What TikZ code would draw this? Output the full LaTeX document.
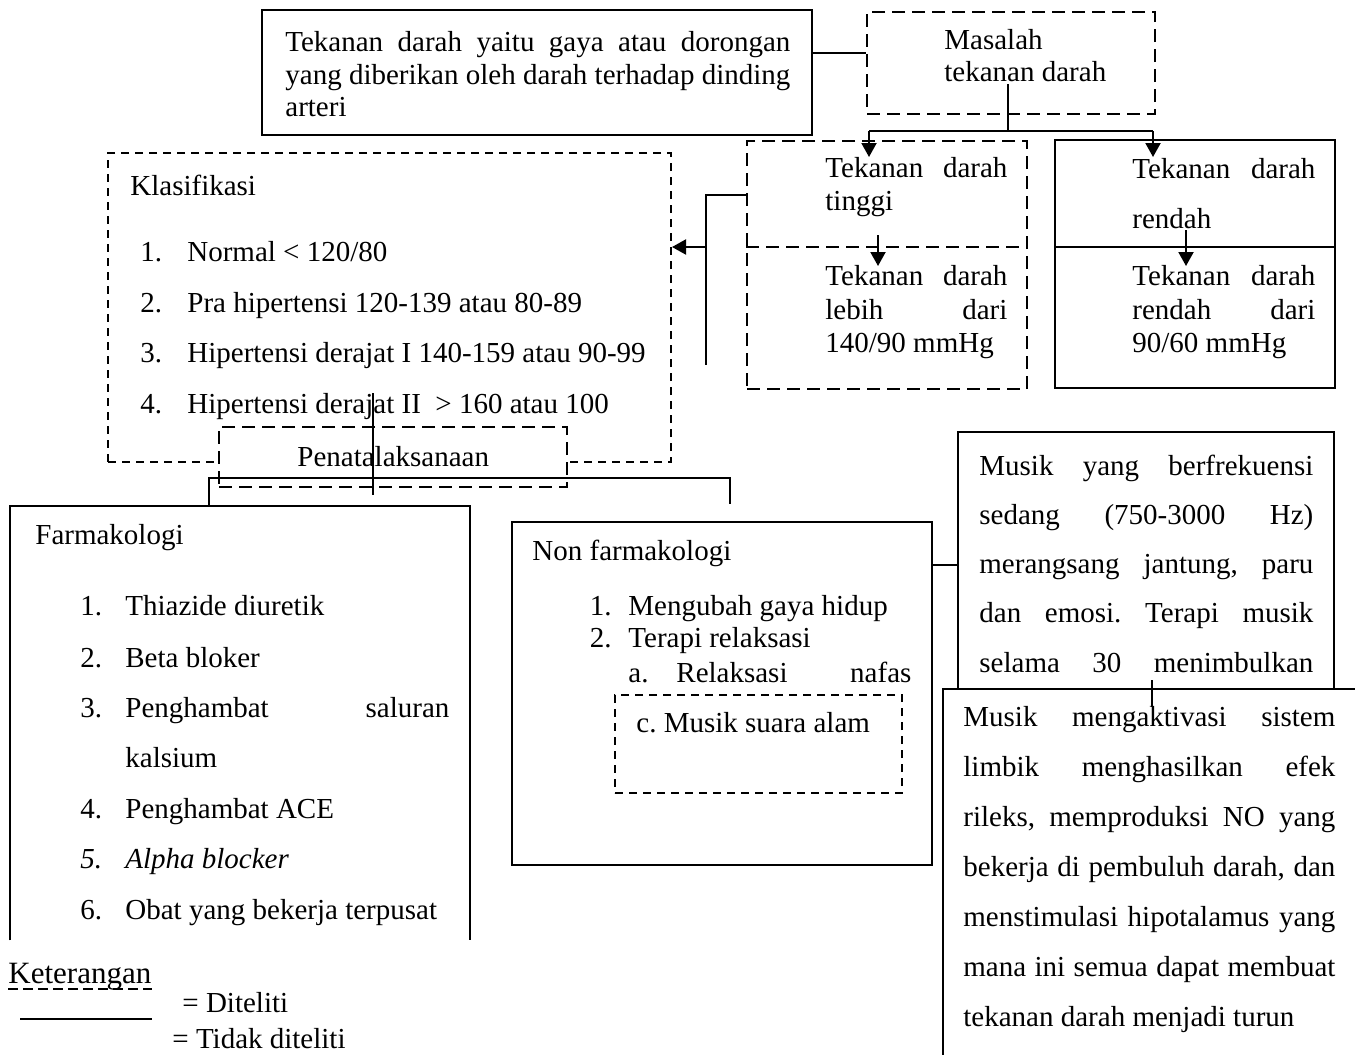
\documentclass[tikz,border=0pt]{standalone}
\usepackage{fontspec}
\setmainfont{Liberation Serif}
\usetikzlibrary{arrows.meta,fit,calc}
\begin{document}
\frenchspacing
\begin{tikzpicture}[x=0.5pt,y=-0.5pt,
  solidbox/.style={draw, line width=1pt, inner sep=0pt},
  dashbox/.style={draw, line width=1pt, inner sep=0pt, dash pattern=on 6.5pt off 3.5pt},
  finebox/.style={draw, line width=1pt, inner sep=0pt, dash pattern=on 4pt off 3pt},
  hidbox/.style={inner sep=0pt},
  conn/.style={line width=1pt},
  arr/.style={line width=1pt, -{Triangle[length=7pt,width=7.5pt]}},
  txt/.style={inner sep=0pt, anchor=base west, font=\fontsize{14.5}{17}\selectfont\frenchspacing},
  txtr/.style={inner sep=0pt, anchor=base east, font=\fontsize{14.5}{17}\selectfont},
]
\useasboundingbox (0,0) rectangle (1355,1055);
\clip (0,0) rectangle (1355,1055);
\fill[white] (0,0) rectangle (1355,1055);

% ---------- boxes ----------
\node[solidbox, fit={(262,10) (812,135)}] (def) {};
\node[dashbox, fit={(867,12) (1155,114)}] (masalah) {};
\node[dashbox, fit={(747,141) (1027,389)}] (tinggi) {};
\node[solidbox, fit={(1055,140) (1335,388)}] (rendah) {};
\node[finebox, fit={(108,153) (671,462)}] (klas) {};
\node[dashbox, fill=white, fit={(219,427) (567,487)}] (penatal) {};
\node[hidbox, fit={(10,506) (470,940)}] (farm) {};
\node[solidbox, fit={(512,522) (932,865)}] (nonfarm) {};
\node[finebox, fit={(615,695) (902,793)}] (musikc) {};
\node[hidbox, fit={(958,432) (1334,689)}] (musik1) {};

% open boxes
\draw[conn] (farm.south west) -- (farm.north west) -- (farm.north east) -- (farm.south east);
\draw[conn] (musik1.south west) -- (musik1.north west) -- (musik1.north east) -- (musik1.south east);
\node[solidbox, fill=white, fit={(943,689) (1380,1080)}] (musik2) {};

% dividers
\draw[conn, dash pattern=on 6.5pt off 3.5pt] ($(tinggi.west)+(0,-18)$) coordinate (td1) -- (td1 -| tinggi.east);
\draw[conn] ($(rendah.west)+(0,-17)$) coordinate (rd1) -- (rd1 -| rendah.east);

% ---------- texts ----------
\node[txt] (d1) at (285,51) {\makebox[252.5pt][s]{Tekanan darah yaitu gaya atau dorongan}};
\node[txt] (d2) at (285,84) {\makebox[252.5pt][s]{yang diberikan oleh darah terhadap dinding}};
\node[txt] (d3) at (285,116) {arteri};

\node[txt] (m1) at (944,49) {Masalah};
\node[txt] (m2) at (944,81) {tekanan darah};

\node[txt] (t1) at (825,177) {\makebox[91pt][s]{Tekanan darah}};
\node[txt] (t2) at (825,210) {tinggi};
\node[txt] (t3) at (825,285) {\makebox[91pt][s]{Tekanan darah}};
\node[txt] (t4) at (825,319) {\makebox[91pt][s]{lebih dari}};
\node[txt] (t5) at (825,352) {140/90 mmHg};

\node[txt] (r1) at (1132,178) {\makebox[91.5pt][s]{Tekanan darah}};
\node[txt] (r2) at (1132,228) {rendah};
\node[txt] (r3) at (1132,285) {\makebox[91.5pt][s]{Tekanan darah}};
\node[txt] (r4) at (1132,319) {\makebox[91.5pt][s]{rendah dari}};
\node[txt] (r5) at (1132,352) {90/60 mmHg};

\node[txt] (k0) at (130,195) {Klasifikasi};
\node[txt] (kn1) at (140,261) {1.};
\node[txt] (k1) at (187,261) {Normal < 120/80};
\node[txt] (kn2) at (140,312) {2.};
\node[txt] (k2) at (187,312) {Pra hipertensi 120-139 atau 80-89};
\node[txt] (kn3) at (140,362) {3.};
\node[txt] (k3) at (187,362) {Hipertensi derajat I 140-159 atau 90-99};
\node[txt] (kn4) at (140,413) {4.};
\node[txt] (k4) at (187,413) {Hipertensi derajat II~~> 160 atau 100};

\node[txt] (p0) at (297,466) {Penatalaksanaan};

\node[txt] (f0) at (35,544) {Farmakologi};
\node[txt] (fn1) at (80,615) {1.};
\node[txt] (f1) at (125,615) {Thiazide diuretik};
\node[txt] (fn2) at (80,667) {2.};
\node[txt] (f2) at (125,667) {Beta bloker};
\node[txt] (fn3) at (80,717) {3.};
\node[txt] (f3) at (125,717) {\makebox[162pt][s]{Penghambat saluran}};
\node[txt] (f3b) at (125,767) {kalsium};
\node[txt] (fn4) at (80,818) {4.};
\node[txt] (f4) at (125,818) {Penghambat ACE};
\node[txt] (fn5) at (80,868) {\itshape 5.};
\node[txt] (f5) at (125,868) {\itshape Alpha blocker};
\node[txt] (fn6) at (80,919) {6.};
\node[txt] (f6) at (125,919) {Obat yang bekerja terpusat};

\node[txt] (n0) at (532,560) {Non farmakologi};
\node[txtr] (nn1) at (612,615) {1.};
\node[txt] (n1) at (628,615) {Mengubah gaya hidup};
\node[txtr] (nn2) at (612,647) {2.};
\node[txt] (n2) at (628,647) {Terapi relaksasi};
\node[txt] (na) at (628,682) {a.};
\node[txt] (n3) at (676,682) {\makebox[117.5pt][s]{Relaksasi nafas}};
\node[txt] (nc) at (636,732) {c. Musik suara alam};

\node[txt] (s1) at (979,475) {\makebox[167pt][s]{Musik yang berfrekuensi}};
\node[txt] (s2) at (979,524) {\makebox[167pt][s]{sedang (750-3000 Hz)}};
\node[txt] (s3) at (979,573) {\makebox[167pt][s]{merangsang jantung, paru}};
\node[txt] (s4) at (979,622) {\makebox[167pt][s]{dan emosi. Terapi musik}};
\node[txt] (s5) at (979,672) {\makebox[167pt][s]{selama 30 menimbulkan}};

\node[txt] (u1) at (963,726) {\makebox[186pt][s]{Musik mengaktivasi sistem}};
\node[txt] (u2) at (963,776) {\makebox[186pt][s]{limbik menghasilkan efek}};
\node[txt] (u3) at (963,826) {\makebox[186pt][s]{rileks, memproduksi NO yang}};
\node[txt] (u4) at (963,876) {\makebox[186pt][s]{bekerja di pembuluh darah, dan}};
\node[txt] (u5) at (963,926) {\makebox[186pt][s]{menstimulasi hipotalamus yang}};
\node[txt] (u6) at (963,976) {\makebox[186pt][s]{mana ini semua dapat membuat}};
\node[txt] (u7) at (963,1026) {tekanan darah menjadi turun};

% legend
\node[txt, font=\fontsize{15.5}{18}\selectfont] (ket) at (8,983) {Keterangan};
\draw[conn, dash pattern=on 5pt off 2.5pt] ($(ket.base west)+(0,6)$) coordinate (ku) -- (ku -| ket.east);
\node[txt] (l1) at (182,1012) {= Diteliti};
\node[txt] (l2) at (172,1048) {= Tidak diteliti};
\coordinate (lg1) at (20,1019);
\coordinate (lg2) at (152,1019);
\draw[conn] (lg1) -- (lg2);

% ---------- connectors ----------
\coordinate (j1) at (812,53);
\draw[conn] (j1) -- (j1 -| masalah.west);

\coordinate (mtop) at (1008,84);
\coordinate (mbar) at (1008,131);
\coordinate (ta) at (869,131);
\coordinate (ra) at (1153,131);
\draw[conn] (mtop) -- (mbar);
\draw[conn] (ta) -- (ra);
\draw[arr] (ta) -- (869,157) coordinate (tatip);
\draw[arr] (ra) -- (1153,157) coordinate (ratip);

\coordinate (ti1) at (878,235);
\draw[arr] (ti1) -- (878,266) coordinate (ti2);
\coordinate (ri1) at (1186,230);
\draw[arr] (ri1) -- (1186,266) coordinate (ri2);

\coordinate (lv1) at (706,195);
\coordinate (lv2) at (706,365);
\coordinate (lv3) at (706,247);
\draw[conn] (tinggi.west |- lv1) -- (lv1) -- (lv2);
\draw[arr] (lv3) -- (lv3 -| klas.east);

\coordinate (pv1) at (372.7,393);
\coordinate (pv2) at (372.7,495);
\draw[conn] (pv1) -- (pv2);
\coordinate (ph1) at (209,478);
\coordinate (ph2) at (730,478);
\draw[conn] (ph1 |- farm.north) -- (ph1) -- (ph2) -- (730,504) coordinate (ph3);

\coordinate (nm) at (932,565);
\draw[conn] (nm) -- (nm -| musik1.west);

\coordinate (mm1) at (1152,680);
\coordinate (mm2) at (1152,707);
\draw[conn] (mm1) -- (mm2);
\end{tikzpicture}
\end{document}
